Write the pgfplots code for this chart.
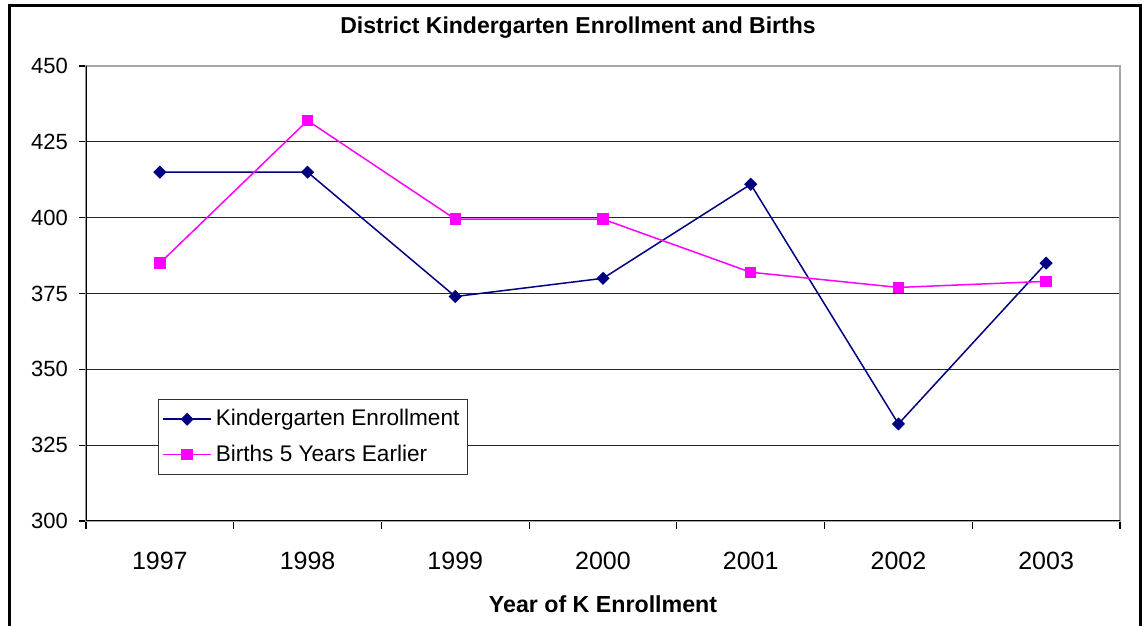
\documentclass[border=0pt]{standalone}
\usepackage{fontspec}
\setmainfont{Liberation Sans}
\usepackage{pgfplots}
\pgfplotsset{compat=1.18}
\definecolor{kcol}{RGB}{0,0,128}
\definecolor{bcol}{RGB}{255,0,255}
\begin{document}
\begin{tikzpicture}
\useasboundingbox (0,0) rectangle (571pt,313pt);
\draw[line width=1.5pt,black] (4.8pt,-10pt) rectangle (570pt,310pt);
\node[anchor=base,font=\bfseries\fontsize{11.5}{13}\selectfont] at (289pt,296pt) {District Kindergarten Enrollment and Births};
\begin{axis}[
  at={(43pt,52.5pt)}, anchor=south west,
  scale only axis, width=517pt, height=227.5pt,
  xmin=-0.5, xmax=6.5, ymin=300, ymax=450,
  xtick={0,...,6},
  xticklabels={1997,1998,1999,2000,2001,2002,2003},
  minor xtick={-0.5,0.5,...,6.5},
  ytick={300,325,...,450},
  xtick pos=bottom, ytick pos=left,
  ymajorgrids,
  grid style={black!85,line width=0.5pt},
  axis line style={draw=gray!70,line width=0.8pt},
  tick align=outside,
  major x tick style={draw=none},
  minor x tick style={black,line width=0.6pt},
  minor tick length=4pt,
  y tick style={black,line width=0.6pt},
  major tick length=3.5pt,
  /pgf/number format/assume math mode=true,
  yticklabel style={font=\fontsize{11}{13}\selectfont, xshift=-2pt},
  xticklabel style={font=\fontsize{12.5}{14}\selectfont, yshift=-8.5pt},
  xlabel={Year of K Enrollment},
  xlabel style={font=\bfseries\fontsize{11.6}{13}\selectfont, yshift=-6pt},
  legend style={at={(rel axis cs:0.0696,0.268)}, anchor=north west,
    font=\fontsize{11.3}{13}\selectfont, draw=black!80, line width=0.5pt,
    row sep=4pt, inner xsep=2pt, inner ysep=3pt, cells={anchor=west}},
  legend image code/.code={\draw[mark repeat=2,mark phase=2] plot coordinates {(0cm,0cm)(0.42cm,0cm)(0.84cm,0cm)};},
]
\addplot[kcol, line width=0.75pt, mark=square*, mark size=1.95pt, mark options={rotate=45,solid}]
  coordinates {(0,415)(1,415)(2,374)(3,380)(4,411)(5,332)(6,385)};
\addlegendentry{Kindergarten Enrollment}
\addplot[bcol, line width=0.75pt, mark=square*, mark size=2.5pt]
  coordinates {(0,385)(1,432)(2,399.5)(3,399.5)(4,382)(5,377)(6,379)};
\addlegendentry{Births 5 Years Earlier}
\draw[black,line width=0.6pt] (rel axis cs:0,1) -- (rel axis cs:0,0) -- (rel axis cs:1,0);
\end{axis}
\end{tikzpicture}
\end{document}
